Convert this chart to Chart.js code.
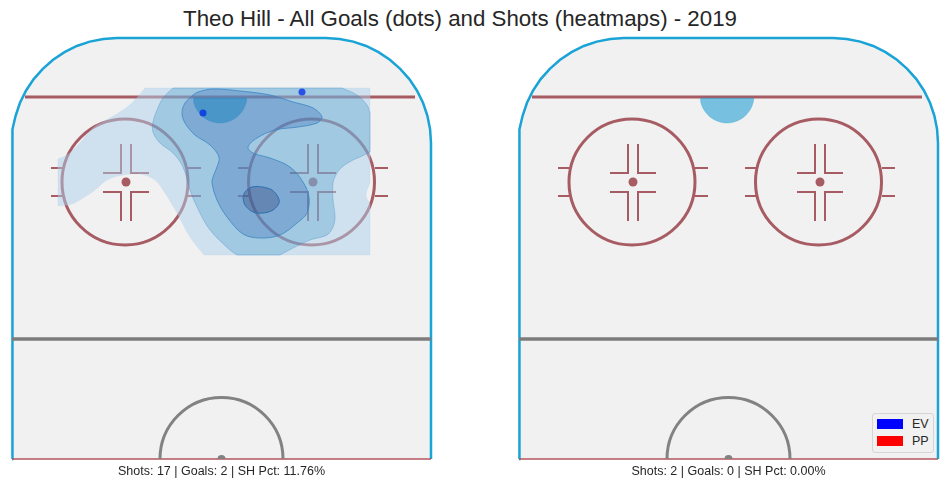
<!DOCTYPE html>
<html>
<head>
<meta charset="utf-8">
<title>Theo Hill</title>
<script src="https://cdn.jsdelivr.net/npm/chart.js@4"></script>
<style>
  html, body { margin: 0; padding: 0; background: #fff; }
  body { position: relative; width: 950px; height: 489px; overflow: hidden; font-family: "Liberation Sans", Arial, sans-serif; color: #262626; }
  canvas { position: absolute; top: 0; }
  #title { position: absolute; left: 0; top: 6px; width: 920px; text-align: center; font-size: 22.3px; line-height: 26px; }
  #legend { position: absolute; left: 872px; top: 413px; width: 60px; height: 38px; background: #f1f1f1; border: 1px solid #d5d5d5; border-radius: 3px; font-size: 12.5px; }
  #legend div { position: absolute; left: 4px; height: 13px; line-height: 13px; white-space: nowrap; }
  #legend span { display: inline-block; width: 26px; height: 10px; margin-right: 9px; vertical-align: -1px; }
</style>
</head>
<body>
<div id="title"></div>
<canvas id="leftRink" width="475" height="489" style="left:0"></canvas>
<canvas id="rightRink" width="475" height="489" style="left:475px"></canvas>
<div id="legend"></div>
<script>
var chartTitle = 'Theo Hill - All Goals (dots) and Shots (heatmaps) - 2019';
var leftStats = 'Shots: 17 | Goals: 2 | SH Pct: 11.76%';
var rightStats = 'Shots: 2 | Goals: 0 | SH Pct: 0.00%';
var legendLabels = ['EV', 'PP'];
var legendColors = ['#0000ff', '#ff0000'];

// rink outline, left corner (right one is mirrored)
var cornerX = [-209.5, -208.6, -205.9, -201.5, -195.4, -187.8, -178.7, -168.4, -157, -144.7, -131.7, -118.2, -104.5];
var cornerY = [316, 329.7, 343.2, 356.2, 368.5, 379.9, 390.2, 399.3, 406.9, 413, 417.4, 420.1, 421];

// faceoff spots, circles and the marks around them, offsets from the spot
var spotX = [-95.5, 91.5];
var spotY = [277, 277];
var circleX = [-96.5, 90];
var circleY = [277, 277];
var markDx = [-75, -64, null, -75, -64, null, 62, 75, null, 62, 75, null,
  -5, -5, -23, null, 5, 5, 23, null, -5, -5, -23, null, 5, 5, 23];
var markY = [291, 291, null, 263, 263, null, 291, 291, null, 263, 263, null,
  315, 286, 286, null, 315, 286, 286, null, 238, 267, 267, null, 238, 267, 267];

// goal line, blue line, centre of the crease
var goalLineX = [-196.5, 193.5];
var goalLineY = [362, 362];
var blueLineX = [-209.5, 209.5];
var blueLineY = [120, 120];
var endLineX = [-209.5, 209.5];
var endLineY = [0, 0];
var creaseX = [0];
var creaseY = [0];

// shot density levels, left rink
var level1X = [-76.5, -76.5, -88.5, -101.5, -113.5, -128.5, -143.5, -154.5, -163.5, -163.5, -163.5, -163.5, -149.5, -138.5, -126.5, -114.5, -98.5, -81.5, -66.5, -56.5, -44.5, -31.5, -17.5, -17.5, 148.5, 148.5, 148.5, 148.5, 144.5, 148.5, 148.5, 148.5, 148.5, -76.5];
var level1Y = [371, 371, 357, 347, 340, 331, 314, 304, 300, 300, 253, 253, 255, 261, 269, 279, 284, 285, 279, 266, 246, 222, 204, 204, 204, 204, 255, 255, 264, 276, 276, 371, 371, 371];
var level2X = [-48.5, -48.5, -58.5, -64.5, -68.5, -68.5, -61.5, -48.5, -38.5, -31.5, -24.5, -11.5, 8.5, 15.5, 15.5, 58.5, 58.5, 71.5, 88.5, 105.5, 111.5, 113.5, 111.5, 111.5, 115.5, 120.5, 131.5, 138.5, 148.5, 148.5, 148.5, 148.5, 145.5, 135.5, 120.5, 120.5, -48.5];
var level2Y = [371, 371, 361, 349, 337, 327, 316, 306, 292, 269, 252, 229, 209, 204, 204, 204, 204, 211, 219, 224, 232, 242, 259, 276, 286, 292, 299, 302, 307, 307, 346, 346, 354, 364, 371, 371, 371];
var level3X = [-28.5, -36.5, -39.5, -36.5, -26.5, -11.5, -2.5, -4.5, -8.5, -9.5, -4.5, 5.5, 21.5, 38.5, 58.5, 75.5, 85.5, 87.5, 81.5, 68.5, 48.5, 31.5, 26.5, 35.5, 53.5, 76.5, 95.5, 100.5, 91.5, 71.5, 48.5, 18.5, -8.5, -23.5, -28.5];
var level3Y = [364, 356, 346, 336, 324, 314, 302, 292, 282, 276, 259, 242, 225, 221, 224, 236, 246, 262, 277, 292, 301, 306, 312, 321, 329, 332, 336, 342, 351, 357, 364, 368, 370, 367, 364];
var level5X = [21.5, 23.5, 30.5, 40.5, 50.5, 56.5, 57.5, 51.5, 41.5, 31.5, 23.5, 21.5];
var level5Y = [261, 267, 272, 272, 269, 262, 256, 249, 246, 247, 254, 261];

// blob under the goal line, same shape on both rinks
var blobX = [-27.5, -27.5, -28, -26.5, -24.5, -20.5, -15.5, -8.5, -1.5, 5.5, 12.5, 17.5, 21.5, 23.5, 25, 25, 25, -27.5];
var blobY = [361, 361, 358, 353, 349, 344, 340, 337, 336, 337, 340, 344, 349, 353, 358, 361, 361, 361];

// goals
var goalX = [-18.5, 80.5];
var goalY = [346, 367];

function toPoints(xs, ys) {
  return xs.map(function (x, i) {
    return { x: x === null ? NaN : x, y: ys[i] === null ? NaN : ys[i] };
  });
}

var outlineX = cornerX.concat(cornerX.slice().reverse().map(function (x) { return -x; }));
var outlineY = cornerY.concat(cornerY.slice().reverse());
outlineX = [-209.5].concat(outlineX, [209.5]);
outlineY = [0].concat(outlineY, [0]);

function lineSet(xs, ys, color, width, order) {
  return { data: toPoints(xs, ys), showLine: true, borderColor: color, borderWidth: width, pointRadius: 0, fill: false, tension: 0, order: order, clip: 4 };
}

function shapeSet(xs, ys, fillColor, edgeColor, order) {
  return { data: toPoints(xs, ys), showLine: true, backgroundColor: fillColor, borderColor: edgeColor, borderWidth: 1, pointRadius: 0, fill: 'shape', tension: 0.35, order: order };
}

function spotMarks(k) {
  return markDx.map(function (d) { return d === null ? null : d + spotX[k]; });
}

function rinkSets() {
  return [
    { data: toPoints(outlineX, outlineY), showLine: true, backgroundColor: '#f1f1f1', borderColor: '#19a3d6', borderWidth: 2.5, pointRadius: 0, fill: 'shape', tension: 0, order: 30, clip: 4 },
    lineSet(goalLineX, goalLineY, '#a75b63', 3, 29),
    lineSet(blueLineX, blueLineY, '#7c7c7c', 3.5, 29),
    lineSet(endLineX, endLineY, '#b2555d', 1.5, 29),
    lineSet(spotMarks(0), markY, '#a75b63', 2, 28),
    lineSet(spotMarks(1), markY, '#a75b63', 2, 28),
    { data: toPoints(circleX, circleY), showLine: false, pointRadius: 63, pointBorderWidth: 3, pointBackgroundColor: 'rgba(0,0,0,0)', pointBorderColor: '#a75b63', order: 27, clip: 4 },
    { data: toPoints(spotX, spotY), showLine: false, pointRadius: 4.5, pointBorderWidth: 0, pointBackgroundColor: '#a75b63', order: 27 },
    { data: toPoints(creaseX, creaseY), showLine: false, pointRadius: 61.5, pointBorderWidth: 3, pointBackgroundColor: 'rgba(0,0,0,0)', pointBorderColor: '#828282', order: 27, clip: 0 },
    { data: toPoints(creaseX, creaseY), showLine: false, pointRadius: 4, pointBorderWidth: 0, pointBackgroundColor: '#828282', order: 27, clip: 0 }
  ];
}

function rinkOptions(stats, padding) {
  return {
    responsive: false,
    animation: false,
    events: [],
    layout: { padding: padding, autoPadding: false },
    plugins: { legend: { display: false }, tooltip: { enabled: false } },
    scales: {
      x: {
        type: 'linear', min: -209.5, max: 209.5,
        ticks: { display: false }, grid: { display: false }, border: { display: false },
        title: { display: true, text: stats, color: '#262626', padding: { top: 0, bottom: 10 }, font: { family: '"Liberation Sans"', size: 12.5 } },
        afterFit: function (scale) { scale.height = 30; }
      },
      y: { type: 'linear', min: 0, max: 421, display: false }
    }
  };
}

document.getElementById('title').textContent = chartTitle;
var legendBox = document.getElementById('legend');
legendLabels.forEach(function (label, i) {
  var row = document.createElement('div');
  row.style.top = (4 + i * 17) + 'px';
  row.innerHTML = '<span style="background:' + legendColors[i] + '"></span>' + label;
  legendBox.appendChild(row);
});

var leftChart = new Chart(document.getElementById('leftRink'), {
  type: 'scatter',
  data: {
    datasets: rinkSets().concat([
      shapeSet(level1X, level1Y, 'rgba(173,207,235,0.5)', 'rgba(173,207,235,0.2)', 20),
      shapeSet(level2X, level2Y, 'rgba(27,132,190,0.25)', 'rgba(60,140,195,0.35)', 19),
      shapeSet(level3X, level3Y, 'rgba(18,81,166,0.25)', 'rgba(60,135,195,0.8)', 18),
      shapeSet(blobX, blobY, 'rgba(10,127,189,0.45)', 'rgba(39,138,194,0.3)', 17),
      shapeSet(level5X, level5Y, 'rgba(26,32,88,0.25)', '#2d6fb0', 16),
      { data: toPoints(goalX, goalY), showLine: false, pointRadius: 3.5, pointBorderWidth: 0, pointBackgroundColor: 'rgba(0,40,230,0.75)', order: 1 }
    ])
  },
  options: rinkOptions(leftStats, { left: 12, right: 44, top: 38 })
});

var rightChart = new Chart(document.getElementById('rightRink'), {
  type: 'scatter',
  data: {
    datasets: rinkSets().concat([
      shapeSet(blobX, blobY, 'rgba(38,160,212,0.6)', 'rgba(38,160,212,0.3)', 17)
    ])
  },
  options: rinkOptions(rightStats, { left: 44, right: 12, top: 38 })
});
</script>
</body>
</html>
